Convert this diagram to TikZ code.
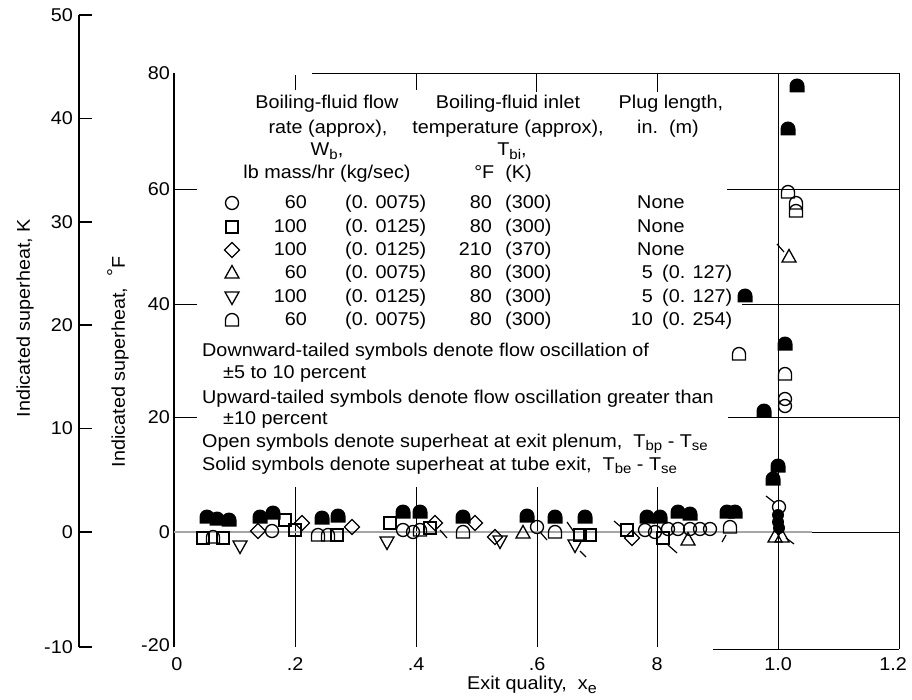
\documentclass[tikz,border=0pt]{standalone}
\usepackage{fontspec}
\setmainfont{Liberation Sans}[FakeStretch=1.07]
\newcommand\sbs[1]{\raisebox{-0.2em}{\fontsize{14}{14}\selectfont #1}}
\tikzset{
  axisline/.style={line width=1.6pt},
  gridline/.style={line width=0.9pt},
  grayline/.style={line width=1.2pt, draw=black!35},
  tailline/.style={line width=1.2pt},
  sym/.style={line width=1.3pt, draw=black},
  lab/.style={inner sep=0pt},
  pics/oc/.style={code={\draw[sym] (0,0) circle[radius=6.5];}},
  pics/os/.style={code={\draw[sym] (-6,-6) rectangle (6,6);}},
  pics/od/.style={code={\draw[sym] (0,-7.5)--(7.5,0)--(0,7.5)--(-7.5,0)--cycle;}},
  pics/ou/.style={code={\draw[sym] (0,-7.5)--(7,5)--(-7,5)--cycle;}},
  pics/on/.style={code={\draw[sym] (0,7.5)--(7,-5)--(-7,-5)--cycle;}},
  pics/oa/.style={code={\draw[sym] (-6.5,6)--(-6.5,0) arc[start angle=180,end angle=360,radius=6.5]--(6.5,6)--cycle;}},
  pics/fa/.style={code={\fill[black] (-7.5,6.5)--(-7.5,0) arc[start angle=180,end angle=360,radius=7.5]--(7.5,6.5)--cycle;}},
  pics/fc/.style={code={\fill[black] (0,0) circle[radius=6];}},
}
\begin{document}
\begin{tikzpicture}[x=1pt,y=-1pt,font=\fontsize{18.5}{21}\selectfont]
\useasboundingbox (0,0) rectangle (912,700);

% ---- K axis
\draw[axisline] (79,15) -- (79,647);
\foreach \yy/\ll in {15/50,118.4/40,221.8/30,325.2/20,428.6/10,532/0,647/-10}{
  \draw[axisline] (79,\yy) -- (92,\yy);
  \node[lab,anchor=east] (k\ll) at (73,\yy) {\ll};
}
\node[rotate=90] (ktitle) at (25,318) {Indicated superheat, K};

% ---- F axis
\draw[axisline] (174,73) -- (174,647);
\foreach \yy in {189,304,417}{\draw[gridline] (174,\yy) -- (197,\yy);}
\draw[gridline] (174,532) -- (180,532);
\foreach \yy/\ll in {73/80,189/60,304/40,417/20,532/0,645/-20}{
  \node[lab,anchor=east] (f\ll) at (170,\yy) {\ll};
}
\node[rotate=90] (ftitle) at (118,362) {Indicated superheat,\ \ \raisebox{0.25em}{°}F};

% ---- frame and grid
\draw[gridline] (312,73) -- (899,73);
\draw[gridline] (899,73) -- (899,649);
\draw[gridline] (713,649) -- (899,649);
\draw[gridline] (778,73) -- (778,649);
\draw[gridline] (295,75) -- (295,90);
\draw[gridline] (416,73) -- (416,90);
\draw[gridline] (536,73) -- (536,92);
\draw[gridline] (657,73) -- (657,92);
\foreach \xx in {295,416,537,657}{\draw[gridline] (\xx,487) -- (\xx,647);}
\draw[gridline] (727,189) -- (899,189);
\draw[gridline] (742,304) -- (899,304);
\draw[gridline] (728,417) -- (899,417);
\draw[grayline] (174,532) -- (812,532);
\draw[gridline] (812,532) -- (899,532);

% ---- x labels
\foreach \xx/\ll in {177/0,295/.2,416/.4,537/.6,657/8,778/1.0,893/1.2}{
  \node[lab] at (\xx,664) {\ll};
}
\node[lab,anchor=base] (xtitle) at (532,689) {Exit quality,\ \ x\raisebox{-0.22em}{\fontsize{15}{15}\selectfont e}};

% ---- legend headers
\node[lab,anchor=base] (h1a) at (327,109) {Boiling-fluid flow};
\node[lab,anchor=base] (h1b) at (328,134) {rate (approx),};
\node[lab,anchor=base] (h1c) at (327,156) {W\sbs{b},};
\node[lab,anchor=base] (h1d) at (327,179) {lb mass/hr (kg/sec)};
\node[lab,anchor=base] (h2a) at (508,109) {Boiling-fluid inlet};
\node[lab,anchor=base] (h2b) at (508,134) {temperature (approx),};
\node[lab,anchor=base] (h2c) at (512,156) {T\sbs{bi},};
\node[lab,anchor=base] (h2d) at (503,179) {°F\ \ (K)};
\node[lab,anchor=base] (h3a) at (671,109) {Plug length,};
\node[lab,anchor=base] (h3b) at (668,134) {in.\ \ (m)};

% ---- legend rows
\foreach \yy/\s/\w/\kg/\tf/\tk/\pl in {
  209/oc/60/0. 0075/80/300/None,
  233/os/100/0. 0125/80/300/None,
  256/od/100/0. 0125/210/370/None,
  279/ou/60/0. 0075/80/300/,
  303/on/100/0. 0125/80/300/,
  326/oa/60/0. 0075/80/300/}{
  \pic at (232,\yy-6) {\s};
  \node[lab,anchor=base east] at (307,\yy) {\w};
  \node[lab,anchor=base west] at (345,\yy) {(\kg)};
  \node[lab,anchor=base east] at (492,\yy) {\tf};
  \node[lab,anchor=base west] at (505,\yy) {(\tk)};
  \node[lab,anchor=base west] at (637,\yy) {\pl};
}
\node[lab,anchor=base east] (p4) at (653,279) {5};
\node[lab,anchor=base west] (q4) at (662,279) {(0. 127)};
\node[lab,anchor=base east] (p5) at (653,303) {5};
\node[lab,anchor=base west] (q5) at (662,303) {(0. 127)};
\node[lab,anchor=base east] (p6) at (653,326) {10};
\node[lab,anchor=base west] (q6) at (662,326) {(0. 254)};

% ---- notes
\node[lab,anchor=base west] (n1) at (202,356) {Downward-tailed symbols denote flow oscillation of};
\node[lab,anchor=base west] (n2) at (223,378) {±5 to 10 percent};
\node[lab,anchor=base west] (n3) at (202,403) {Upward-tailed symbols denote flow oscillation greater than};
\node[lab,anchor=base west] (n4) at (223,424) {±10 percent};
\node[lab,anchor=base west] (n5) at (202,447) {Open symbols denote superheat at exit plenum,\ \ T\sbs{bp} - T\sbs{se}};
\node[lab,anchor=base west] (n6) at (202,470) {Solid symbols denote superheat at tube exit,\ \ T\sbs{be} - T\sbs{se}};

% ---- data points
\foreach \t/\x/\y in {
  fa/797/86, fa/788/129, oa/788/192, oa/796/203, oa/796/211, ou/789/257,
  fa/745/296, oa/739/354, fa/785/344, oa/785/374, oc/785/399, oc/785/406,
  fa/764/411, fa/778/466, fa/773/479,
  oc/779/507, fc/778/515, fc/778/522, fc/779/528, ou/775/537, ou/782/537,
  fa/207/517, fa/217/519, fa/229/520, os/203/538, oa/213/537, os/223/538, on/240/546,
  fa/260/517, fa/273/513, od/258/531, oc/272/531, os/285/520,
  os/295/530, od/302/523, fa/322/518, fa/338/516, oa/318/535, oa/328/535, os/337/535,
  od/352/527, on/387/542, os/390/523, fa/403/512, fa/420/512,
  oc/403/530, oc/413/532, oa/420/530, os/430/528, od/435/523,
  fa/463/517, oa/463/532, od/475/523, od/495/537, on/500/541,
  fa/527/516, ou/523/533, oc/537/527,
  fa/555/517, oa/555/532, fa/585/517, os/580/535, os/590/535, on/575/545,
  os/627/530, od/632/538, fa/647/517, fa/660/517,
  oc/645/530, oc/655/532, oc/668/529, oc/678/529, oc/690/529, oc/700/529, oc/710/529,
  os/663/538, fa/678/512, fa/690/514, ou/688/540,
  fa/727/512, fa/735/512, oa/730/527}{
  \pic at (\x,\y) {\t};
}
% tails
\foreach \xa/\ya/\xb/\yb in {
  784/252/777/244, 766/496/775/503, 786/538/794/544, 440/530/447/538,
  540/532/547/540, 567/522/574/532, 580/551/586/557, 614/521/621/527,
  668/545/677/553, 726/535/722/542}{
  \draw[tailline] (\xa,\ya) -- (\xb,\yb);
}
\end{tikzpicture}
\end{document}
